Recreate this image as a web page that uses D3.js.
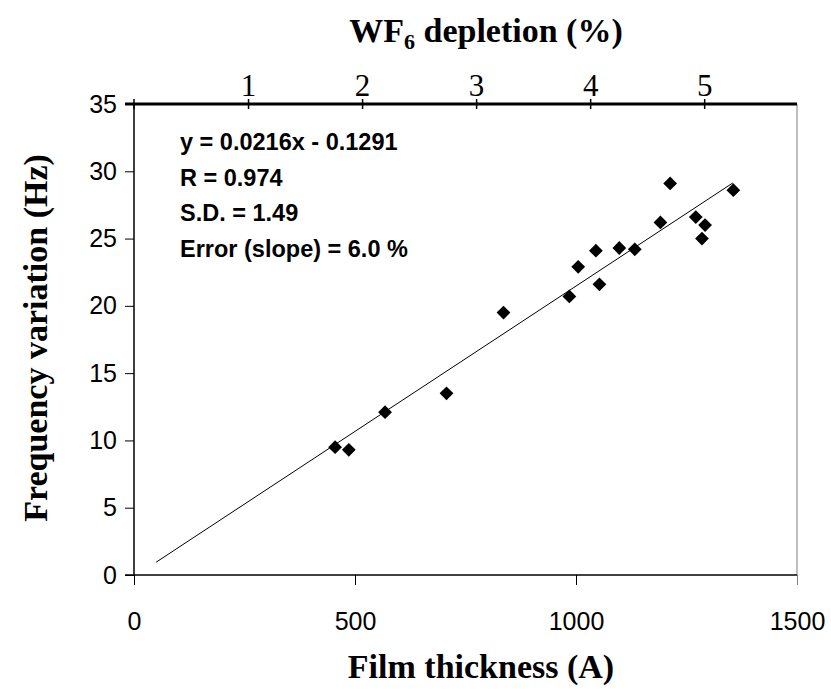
<!DOCTYPE html>
<html>
<head>
<meta charset="utf-8">
<script src="https://cdn.jsdelivr.net/npm/d3@7"></script>
<style>
  body { margin: 0; background: #fff; }
  svg { display: block; }
</style>
</head>
<body>
<svg id="chart" width="831" height="689"></svg>
<script>
// measured points, film thickness (A) vs frequency variation (Hz)
const thickness = [455, 486, 568, 707, 836, 985, 1005, 1045, 1053, 1098, 1133, 1191, 1213, 1271, 1285, 1292, 1356];
const freq = [9.5, 9.3, 12.1, 13.5, 19.5, 20.7, 22.9, 24.1, 21.6, 24.3, 24.2, 26.2, 29.1, 26.6, 25.0, 26.0, 28.6];

// trendline as drawn
const fitX = [50, 1355];
const fitSlope = 0.0216;
const fitIntercept = -0.1291;

const xTicks = [0, 500, 1000, 1500];
const yTicks = [0, 5, 10, 15, 20, 25, 30, 35];
const topTicks = [1, 2, 3, 4, 5];

const statLines = [
  "y = 0.0216x - 0.1291",
  "R = 0.974",
  "S.D. = 1.49",
  "Error (slope) = 6.0 %"
];

const svg = d3.select("#chart");
const plotL = 134, plotR = 797, plotT = 104, plotB = 575;
const sans = "Liberation Sans, Arial, sans-serif";
const serif = "Liberation Serif, Times New Roman, serif";

const x = d3.scaleLinear().domain([0, 1500]).range([plotL, plotR]);
const y = d3.scaleLinear().domain([0, 35]).range([plotB, plotT]);
// depletion axis: 1 % every ~258 A
const xTop = d3.scaleLinear().domain([0, 1500 / 258]).range([plotL, plotR]);

// right border of plot area
svg.append("line")
  .attr("x1", plotR).attr("x2", plotR)
  .attr("y1", plotT).attr("y2", plotB)
  .attr("stroke", "#bfbfbf").attr("stroke-width", 2);

// bottom axis
const gx = svg.append("g")
  .attr("transform", "translate(0," + plotB + ")")
  .call(d3.axisBottom(x).tickValues(xTicks).tickSize(10).tickPadding(27).tickFormat(d3.format("d")));
gx.select(".domain").attr("d", "M" + (plotL - 9) + ",0H" + plotR).attr("stroke", "#000").attr("stroke-width", 1.5);
gx.selectAll(".tick line").attr("stroke", (d) => d === 1500 ? "#808080" : "#000");
gx.selectAll(".tick text")
  .attr("font-family", sans)
  .attr("font-size", 25).attr("fill", "#000");

// left axis
const gy = svg.append("g")
  .attr("transform", "translate(" + plotL + ",0)")
  .call(d3.axisLeft(y).tickValues(yTicks).tickSize(9).tickPadding(8));
gy.select(".domain").attr("d", "M0," + plotT + "V" + plotB).attr("stroke", "#000").attr("stroke-width", 1.5);
gy.selectAll(".tick text")
  .attr("font-family", sans)
  .attr("font-size", 25).attr("fill", "#000");

// top axis (WF6 depletion)
const gt = svg.append("g")
  .attr("transform", "translate(0," + plotT + ")")
  .call(d3.axisTop(xTop).tickValues(topTicks).tickSize(5).tickPadding(3).tickFormat(d3.format("d")));
gt.select(".domain").attr("d", "M" + (plotL - 9) + ",0H" + plotR).attr("stroke", "#000").attr("stroke-width", 3);
gt.selectAll(".tick line").attr("y1", 5).attr("y2", -5).attr("stroke-width", 1.5);
gt.selectAll(".tick text")
  .attr("font-family", serif)
  .attr("font-size", 31).attr("fill", "#000");
gt.append("line").attr("x1", plotL).attr("x2", plotL).attr("y1", -5).attr("y2", 5)
  .attr("stroke", "#000").attr("stroke-width", 1.5);

// trendline
svg.append("path")
  .datum(fitX)
  .attr("fill", "none")
  .attr("stroke", "#000")
  .attr("stroke-width", 1)
  .attr("d", d3.line().x((d) => x(d)).y((d) => y(fitSlope * d + fitIntercept)));

// diamonds
const diamond = d3.symbol().type(d3.symbolSquare).size(95);
svg.append("g").selectAll("path")
  .data(thickness)
  .join("path")
  .attr("d", diamond)
  .attr("fill", "#000")
  .attr("transform", (d, i) => "translate(" + x(d) + "," + y(freq[i]) + ") rotate(45)");

// statistics text
svg.append("g").selectAll("text")
  .data(statLines)
  .join("text")
  .attr("x", 180)
  .attr("y", (d, i) => 150 + i * 35.7)
  .attr("font-family", sans)
  .attr("font-weight", "bold")
  .attr("font-size", 23.5)
  .text((d) => d);

// titles
const topTitle = svg.append("text")
  .attr("x", 486).attr("y", 42)
  .attr("text-anchor", "middle")
  .attr("font-family", serif).attr("font-weight", "bold").attr("font-size", 34);
topTitle.append("tspan").text("WF");
topTitle.append("tspan").attr("font-size", 22).attr("dy", 7).text("6");
topTitle.append("tspan").attr("dy", -7).text(" depletion (%)");

svg.append("text")
  .attr("x", 481).attr("y", 678)
  .attr("text-anchor", "middle")
  .attr("font-family", serif).attr("font-weight", "bold").attr("font-size", 34)
  .text("Film thickness (A)");

svg.append("text")
  .attr("transform", "translate(47,338) rotate(-90)")
  .attr("text-anchor", "middle")
  .attr("font-family", serif).attr("font-weight", "bold").attr("font-size", 34)
  .text("Frequency variation (Hz)");
</script>
</body>
</html>
